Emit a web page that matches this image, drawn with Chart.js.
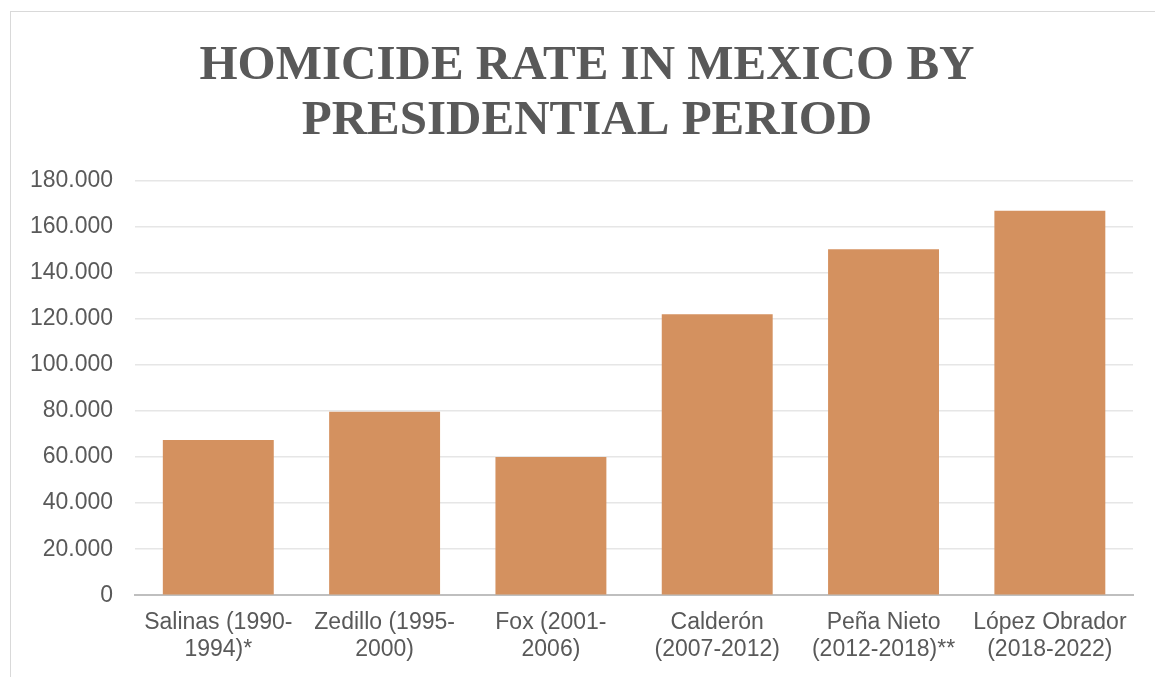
<!DOCTYPE html>
<html>
<head>
<meta charset="utf-8">
<title>Homicide rate in Mexico by presidential period</title>
<script src="https://cdn.jsdelivr.net/npm/chart.js@4"></script>
<style>
  html, body { margin: 0; padding: 0; background: #fff; overflow: hidden; }
  #wrap { position: relative; width: 1155px; height: 677px; }
  #frame { position: absolute; left: 10px; top: 11px; width: 1160px; height: 700px;
           border: 1px solid #d9d9d9; box-sizing: border-box; }
  #chart { position: absolute; left: 0; top: 0; }
</style>
</head>
<body>
<div id="wrap">
  <div id="frame"></div>
  <canvas id="chart" width="1155" height="677"></canvas>
</div>
<script>
// periods (two-line labels) and homicides per period
const periods = [
    ['Salinas (1990-', '1994)*'],
    ['Zedillo (1995-', '2000)'],
    ['Fox (2001-', '2006)'],
    ['Calderón', '(2007-2012)'],
    ['Peña Nieto', '(2012-2018)**'],
    ['López Obrador', '(2018-2022)']
];
const homicides = [67400, 79700, 60100, 122100, 150300, 167100];
const yMax = 180000;
const yStep = 20000;
const titleLines = ['HOMICIDE RATE IN MEXICO BY', 'PRESIDENTIAL PERIOD'];

const textGrey = '#595959';

// thousands separated by dots: 180000 -> 180.000
const fmt = v => String(v).replace(/\B(?=(\d{3})+(?!\d))/g, '.');

// the title is centred on the framed box, not on the canvas, so draw it here
const boxTitle = {
    id: 'boxTitle',
    afterDraw(chart) {
        const c = chart.ctx;
        c.save();
        c.fillStyle = textGrey;
        c.font = 'bold 49px "Liberation Serif", serif';
        c.textAlign = 'center';
        c.textBaseline = 'middle';
        titleLines.forEach((line, i) => c.fillText(line, 587, 66 + i * 55));
        c.restore();
    }
};

const ctx = document.getElementById('chart').getContext('2d');
new Chart(ctx, {
    type: 'bar',
    data: {
        labels: periods,
        datasets: [{
            label: 'Homicides',
            data: homicides,
            backgroundColor: '#d4915f',
            barPercentage: 0.667,
            categoryPercentage: 1
        }]
    },
    options: {
        responsive: false,
        animation: false,
        layout: { padding: { top: 181, left: 8, right: 22, bottom: 0 } },
        plugins: {
            legend: { display: false },
            tooltip: { enabled: false },
            title: { display: false }
        },
        scales: {
            x: {
                grid: { display: false, drawTicks: false },
                border: { color: '#bfbfbf', width: 2 },
                ticks: {
                    color: textGrey,
                    font: { family: '"Liberation Sans", Arial, sans-serif', size: 23, lineHeight: 1.17 },
                    padding: 14,
                    maxRotation: 0,
                    autoSkip: false
                }
            },
            y: {
                min: 0,
                max: yMax,
                border: { display: false },
                grid: {
                    color: c => c.tick.value === 0 ? '#bfbfbf' : '#e6e6e6',
                    lineWidth: 1.5,
                    drawTicks: false
                },
                ticks: {
                    stepSize: yStep,
                    color: textGrey,
                    font: { family: '"Liberation Sans", Arial, sans-serif', size: 23 },
                    padding: 22,
                    callback: v => fmt(v)
                }
            }
        }
    },
    plugins: [boxTitle]
});
</script>
</body>
</html>
